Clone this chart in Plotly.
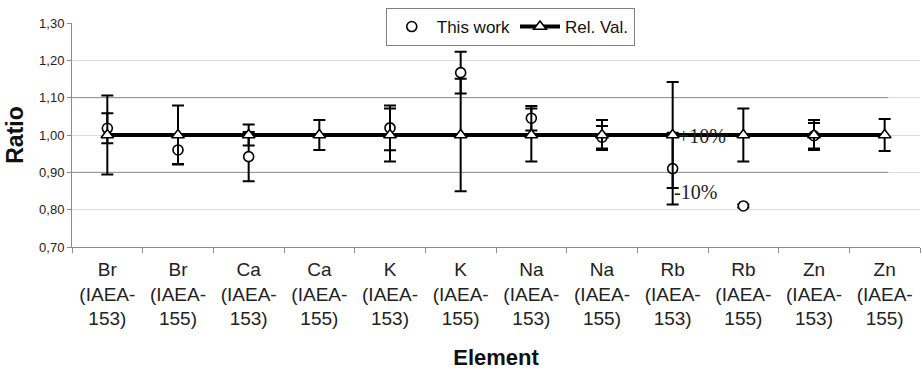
import plotly.graph_objects as go

# ---- data ----
elements = ["Br", "Br", "Ca", "Ca", "K", "K", "Na", "Na", "Rb", "Rb", "Zn", "Zn"]
materials = ["153", "155", "153", "155", "153", "155", "153", "155", "153", "155", "153", "155"]
this_work = [1.018, 0.960, 0.942, None, 1.019, 1.167, 1.045, 0.994, 0.910, 0.810, 0.998, None]
this_work_err = [0.040, 0.038, 0.066, None, 0.060, 0.056, 0.033, 0.030, 0.096, 0.004, 0.034, None]
rel_val = [1.00, 1.00, 1.00, 1.00, 1.00, 1.00, 1.00, 1.00, 1.00, 1.00, 1.00, 1.00]
rel_val_err = [0.106, 0.079, 0.028, 0.040, 0.071, 0.151, 0.071, 0.040, 0.142, 0.071, 0.040, 0.043]
limit_upper = 1.10
limit_lower = 0.90
y_ticks = [0.70, 0.80, 0.90, 1.00, 1.10, 1.20, 1.30]

tick_text = [f"{e}<br>(IAEA-<br>{m})" for e, m in zip(elements, materials)]
xs = list(range(len(elements)))
n = len(elements)

fig = go.Figure()

# +/-10% limit lines
for lim in (limit_upper, limit_lower):
    fig.add_trace(go.Scatter(
        x=[-0.5, n - 1 + 0.05], y=[lim, lim], mode="lines",
        line=dict(color="#8c8c8c", width=1), showlegend=False, hoverinfo="skip"))

fig.add_trace(go.Scatter(
    x=xs, y=this_work, mode="markers", name="This work",
    marker=dict(symbol="circle", size=10, color="white",
                line=dict(color="black", width=1.6)),
    error_y=dict(type="data", array=this_work_err, color="black",
                 thickness=2, width=6),
))

fig.add_trace(go.Scatter(
    x=xs, y=rel_val, mode="lines+markers", name="Rel. Val.",
    line=dict(color="black", width=4),
    marker=dict(symbol="triangle-up", size=11, color="white",
                line=dict(color="black", width=1.6)),
    error_y=dict(type="data", array=rel_val_err, color="black",
                 thickness=2, width=6),
))

fig.add_annotation(x=8, y=1.0, text="+10%", showarrow=False, xanchor="left",
                   xshift=3, yshift=-1,
                   font=dict(family="Liberation Serif", size=20, color="#222"))
fig.add_annotation(x=8, y=0.847, text="-10%", showarrow=False, xanchor="left",
                   xshift=-1,
                   font=dict(family="Liberation Serif", size=20, color="#222"))

fig.update_layout(
    width=923, height=373,
    margin=dict(l=72, r=3, t=23, b=126),
    paper_bgcolor="white", plot_bgcolor="white",
    separators=", ",
    font=dict(family="Liberation Sans", color="#222"),
    showlegend=True,
    legend=dict(orientation="h", x=0.37, y=1.067, xanchor="left", yanchor="top",
                bordercolor="#7f7f7f", borderwidth=1, bgcolor="white",
                font=dict(size=17, color="#111"), itemwidth=40,
                tracegroupgap=0),
)

fig.update_xaxes(
    range=[-0.5, n - 0.5], tickmode="array", tickvals=xs, ticktext=tick_text,
    ticks="", showgrid=False, showline=True, linecolor="#8c8c8c", linewidth=1,
    tickfont=dict(size=19, color="#222"), ticklabelstandoff=5,
    minor=dict(tickmode="array", tickvals=[i + 0.5 for i in range(-1, n)],
               ticks="outside", ticklen=5, tickcolor="#8c8c8c", showgrid=False),
    title=dict(text="<b>Element</b>", font=dict(size=22, color="#111"), standoff=21),
    zeroline=False,
)

fig.update_yaxes(
    range=[0.70, 1.30], tickmode="array", tickvals=y_ticks, tickformat=".2f",
    showgrid=True, gridcolor="#dcdcdc", gridwidth=1,
    showline=True, linecolor="#8c8c8c", linewidth=1,
    ticks="outside", ticklen=4, tickcolor="#8c8c8c",
    tickfont=dict(size=13, color="#222"),
    title=dict(text="<b>Ratio</b>", font=dict(size=23, color="#111"), standoff=9),
    zeroline=False,
)

fig.write_html("out.html")
